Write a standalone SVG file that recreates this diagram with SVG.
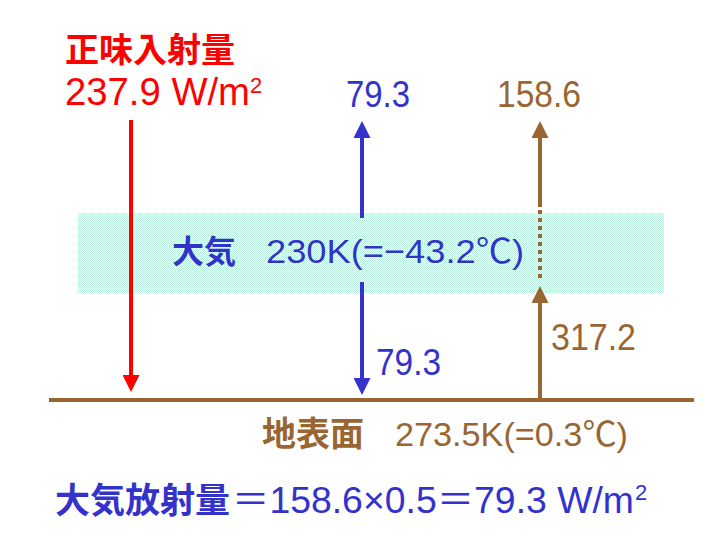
<svg xmlns="http://www.w3.org/2000/svg" width="720" height="540" viewBox="0 0 720 540">
  <style>
    .cjk { font-family: "Noto Sans CJK JP", sans-serif; font-weight: bold; }
    .num { font-family: "Liberation Sans", "Noto Sans CJK JP", sans-serif; }
    .red { fill: #ff0000; }
    .blue { fill: #3333cc; }
    .brown { fill: #996633; }
  </style>
  <defs>
    <pattern id="dither" width="2" height="2" patternUnits="userSpaceOnUse">
      <rect x="0" y="0" width="2" height="2" fill="#ffffff"/>
      <rect x="0" y="0" width="1" height="1" fill="#b8f0dc"/>
      <rect x="1" y="1" width="1" height="1" fill="#b8f0dc"/>
    </pattern>
    <marker id="headRed" markerUnits="userSpaceOnUse" markerWidth="17" markerHeight="17" refX="0" refY="8.5" orient="auto" viewBox="0 0 17 17">
      <path d="M0,0 L17,8.5 L0,17 z" fill="#ff0000"/>
    </marker>
    <marker id="headBlue" markerUnits="userSpaceOnUse" markerWidth="17" markerHeight="17" refX="0" refY="8.5" orient="auto" viewBox="0 0 17 17">
      <path d="M0,0 L17,8.5 L0,17 z" fill="#3333cc"/>
    </marker>
    <marker id="headBrown" markerUnits="userSpaceOnUse" markerWidth="17" markerHeight="17" refX="0" refY="8.5" orient="auto" viewBox="0 0 17 17">
      <path d="M0,0 L17,8.5 L0,17 z" fill="#996633"/>
    </marker>
  </defs>

  <rect width="720" height="540" fill="#ffffff"/>

  <g id="atmosphere">
    <rect x="78" y="213" width="586" height="80" fill="url(#dither)"/>
    <text class="cjk blue" x="172" y="263" font-size="32">大気</text>
    <text class="num blue" x="266" y="263" font-size="34" textLength="258" lengthAdjust="spacingAndGlyphs">230K(=−43.2℃)</text>
  </g>

  <g id="ground">
    <line x1="49" y1="400" x2="694" y2="400" stroke="#996633" stroke-width="4"/>
    <text class="cjk brown" x="262" y="446" font-size="34">地表面</text>
    <text class="num brown" x="395" y="446" font-size="34" textLength="233" lengthAdjust="spacingAndGlyphs">273.5K(=0.3℃)</text>
  </g>

  <g id="incoming">
    <text class="cjk red" x="65" y="62" font-size="34">正味入射量</text>
    <text class="num red" x="65" y="105" font-size="38" textLength="185" lengthAdjust="spacingAndGlyphs">237.9 W/m</text>
    <text class="num red" x="250" y="93" font-size="22">2</text>
  </g>

  <g id="labels">
    <text class="num blue" x="346" y="107" font-size="37" textLength="64" lengthAdjust="spacingAndGlyphs">79.3</text>
    <text class="num brown" x="497" y="107" font-size="37" textLength="84" lengthAdjust="spacingAndGlyphs">158.6</text>
    <text class="num blue" x="376" y="375" font-size="37" textLength="65" lengthAdjust="spacingAndGlyphs">79.3</text>
    <text class="num brown" x="551" y="350" font-size="37" textLength="85" lengthAdjust="spacingAndGlyphs">317.2</text>
  </g>

  <g id="formula">
    <text class="cjk blue" x="55" y="513" font-size="35">大気放射量</text>
    <text class="num blue" x="232" y="513" font-size="37" textLength="402" lengthAdjust="spacingAndGlyphs">＝158.6×0.5＝79.3 W/m</text>
    <text class="num blue" x="635" y="500" font-size="22">2</text>
  </g>

  <g id="connectors" stroke-width="4" fill="none">
    <line x1="131" y1="120" x2="131" y2="375" stroke="#ff0000" marker-end="url(#headRed)"/>
    <line x1="362" y1="218" x2="362" y2="138" stroke="#3333cc" marker-end="url(#headBlue)"/>
    <line x1="362" y1="282" x2="362" y2="378" stroke="#3333cc" marker-end="url(#headBlue)"/>
    <line x1="540" y1="207" x2="540" y2="138" stroke="#996633" marker-end="url(#headBrown)"/>
    <line x1="540" y1="210" x2="540" y2="280" stroke="#996633" stroke-dasharray="4 4"/>
    <line x1="540" y1="398" x2="540" y2="303" stroke="#996633" marker-end="url(#headBrown)"/>
  </g>
</svg>
